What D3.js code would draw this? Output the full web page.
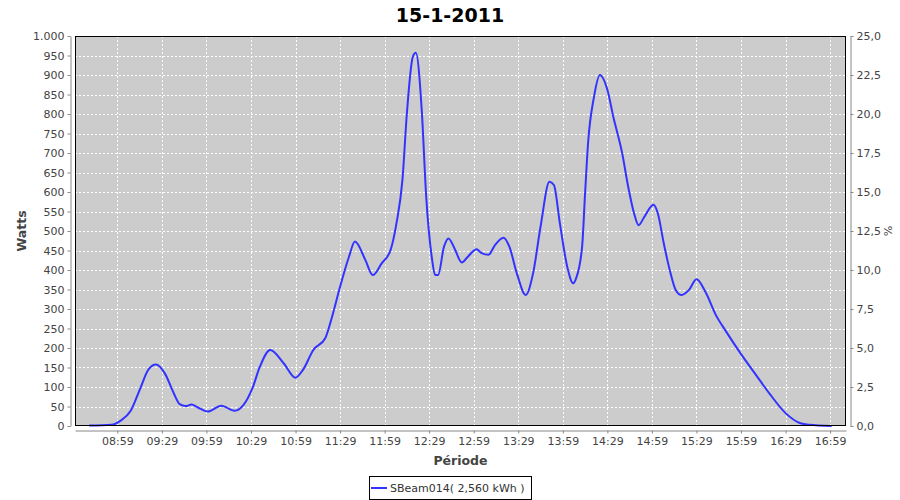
<!DOCTYPE html>
<html><head><meta charset="utf-8">
<script src="https://cdn.jsdelivr.net/npm/d3@7"></script>
<style>body{margin:0;background:#fff}svg{display:block}</style>
</head><body><svg id="c" width="900" height="500"></svg>
<script>
const chartTitle = "15-1-2011";
const seriesName = "SBeam014( 2,560 kWh )";
const xTitle = "Période";
const yTitle = "Watts";
const y2Title = "%";

const times = ["08:40","08:55","09:01","09:08","09:14","09:20","09:25","09:31","09:37","09:41",
  "09:45","09:49","09:53","10:00","10:09","10:18","10:24","10:30","10:35","10:42",
  "10:51","10:59","11:04","11:11","11:19","11:23","11:29","11:35","11:39","11:46",
  "11:51","11:57","12:03","12:07","12:11","12:14","12:18","12:20","12:24","12:27",
  "12:31","12:33","12:35","12:39","12:42","12:46","12:51","12:55","13:01","13:04",
  "13:09","13:13","13:19","13:23","13:28","13:34","13:39","13:44","13:50","13:53",
  "13:57","14:02","14:06","14:08","14:12","14:14","14:16","14:20","14:24","14:29",
  "14:33","14:39","14:43","14:47","14:50","14:54","15:00","15:03","15:07","15:11",
  "15:15","15:19","15:24","15:29","15:35","15:42","15:49","15:58","16:10","16:19",
  "16:29","16:39","16:45","17:00"];
const watts = [1,3,13,39,92,145,158,135,84,56,
  51,55,48,37,52,39,54,97,152,195,
  161,124,144,195,225,272,357,434,473,426,
  387,417,451,520,631,802,947,957,810,588,
  426,387,387,460,481,456,419,434,453,444,
  439,462,483,460,392,336,392,511,626,618,
  520,408,366,379,460,597,725,844,900,862,
  793,699,614,545,515,537,567,545,468,400,
  349,336,349,376,344,285,242,190,126,79,
  33,7,3,0];

const xTickLabels = ["08:59","09:29","09:59","10:29","10:59","11:29","11:59","12:29",
  "12:59","13:29","13:59","14:29","14:59","15:29","15:59","16:29","16:59"];
const wattTicks = [0,50,100,150,200,250,300,350,400,450,500,550,600,650,700,750,800,850,900,950,1000];
const pctTicks = [0,2.5,5,7.5,10,12.5,15,17.5,20,22.5,25];
const xDomain = ["08:30.5","17:09.7"];

const toMin = s => { const [h,m] = s.split(":"); return (+h)*60 + parseFloat(m); };

const svg = d3.select("#c");
const L = 75, R = 846, T = 36, B = 426;

const x = d3.scaleLinear().domain(xDomain.map(toMin)).range([L, R]);
const y = d3.scaleLinear().domain([0, 1000]).range([B, T]);
const y2 = d3.scaleLinear().domain([0, 25]).range([B, T]);

const fontTick = "DejaVu Sans, Verdana, sans-serif";

// plot background
svg.append("rect").attr("x", L).attr("y", T).attr("width", R - L).attr("height", B - T)
  .attr("fill", "#cccccc");

// grid
const grid = svg.append("g").attr("stroke", "#fff").attr("stroke-width", 1)
  .attr("stroke-dasharray", "2,2").attr("shape-rendering", "crispEdges");
grid.selectAll("line.h").data(wattTicks).join("line")
  .attr("x1", L).attr("x2", R)
  .attr("y1", d => Math.round(y(d)) + 0.5).attr("y2", d => Math.round(y(d)) + 0.5);
grid.selectAll("line.v").data(xTickLabels).join("line")
  .attr("class", "v")
  .attr("y1", T).attr("y2", B)
  .attr("x1", d => Math.round(x(toMin(d))) + 0.5).attr("x2", d => Math.round(x(toMin(d))) + 0.5);

// series line
const pts = times.map((t, i) => [toMin(t), watts[i]]);
const line = d3.line().x(d => x(d[0])).y(d => y(d[1])).curve(d3.curveMonotoneX);
svg.append("path").datum(pts).attr("d", line)
  .attr("fill", "none").attr("stroke", "#3333ff").attr("stroke-width", 2)
  .attr("stroke-linejoin", "round");

// plot outline
svg.append("rect").attr("x", L + 0.5).attr("y", T + 0.5).attr("width", R - L - 1).attr("height", B - T - 1)
  .attr("fill", "none").attr("stroke", "#000").attr("stroke-width", 1);

function styleAxis(g) {
  g.selectAll(".domain").attr("stroke", "#888");
  g.selectAll(".tick line").attr("stroke", "#888");
  g.selectAll(".tick text").attr("fill", "#444").attr("font-family", fontTick).attr("font-size", 11);
}

// left axis
const fmtW = d => d >= 1000 ? d3.format(",")(d).replace(",", ".") : String(d);
const gL = svg.append("g").attr("transform", `translate(${L - 4.5},0)`)
  .call(d3.axisLeft(y).tickValues(wattTicks).tickFormat(fmtW).tickSize(3).tickSizeOuter(0).tickPadding(3));
styleAxis(gL);

// right axis
const fmtP = d => d3.format(".1f")(d).replace(".", ",");
const gR = svg.append("g").attr("transform", `translate(${R + 4.5},0)`)
  .call(d3.axisRight(y2).tickValues(pctTicks).tickFormat(fmtP).tickSize(3).tickSizeOuter(0).tickPadding(3));
styleAxis(gR);

// bottom axis
const gB = svg.append("g").attr("transform", `translate(0,${B + 4.5})`)
  .call(d3.axisBottom(x).tickValues(xTickLabels.map(toMin))
    .tickFormat((d, i) => xTickLabels[i]).tickSize(3).tickSizeOuter(0).tickPadding(4));
styleAxis(gB);

// titles
svg.append("text").attr("x", 450).attr("y", 22).attr("text-anchor", "middle")
  .attr("font-family", "DejaVu Sans, sans-serif").attr("font-weight", "bold").attr("font-size", 19)
  .attr("fill", "#000").text(chartTitle);

svg.append("text").attr("x", (L + R) / 2).attr("y", 465).attr("text-anchor", "middle")
  .attr("font-family", "DejaVu Sans, sans-serif").attr("font-weight", "bold").attr("font-size", 12.5)
  .attr("fill", "#444").text(xTitle);

svg.append("text").attr("transform", `translate(26,${(T + B) / 2}) rotate(-90)`).attr("text-anchor", "middle")
  .attr("font-family", "DejaVu Sans, sans-serif").attr("font-weight", "bold").attr("font-size", 12.5)
  .attr("fill", "#444").text(yTitle);

svg.append("text").attr("transform", `translate(884,${(T + B) / 2}) rotate(90)`).attr("text-anchor", "middle")
  .attr("font-family", fontTick).attr("font-size", 11)
  .attr("fill", "#444").text(y2Title);

// legend
const lg = svg.append("g");
lg.append("rect").attr("x", 369.5).attr("y", 476.5).attr("width", 162).attr("height", 23)
  .attr("fill", "#fff").attr("stroke", "#000");
lg.append("line").attr("x1", 371).attr("x2", 387).attr("y1", 488).attr("y2", 488)
  .attr("stroke", "#3333ff").attr("stroke-width", 2);
lg.append("text").attr("x", 390).attr("y", 492)
  .attr("font-family", fontTick).attr("font-size", 11).attr("fill", "#333").text(seriesName);
</script></body></html>
